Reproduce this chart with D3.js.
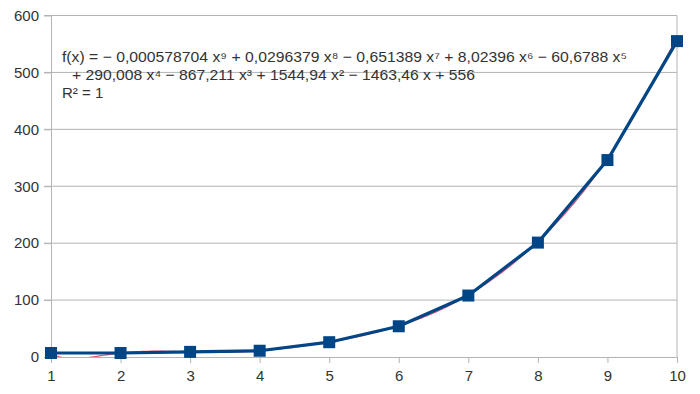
<!DOCTYPE html>
<html>
<head>
<meta charset="utf-8">
<script src="https://cdn.jsdelivr.net/npm/d3@7"></script>
<style>
  html, body { margin: 0; padding: 0; background: #fff; }
  svg { display: block; font-family: "Liberation Sans", Arial, sans-serif; }
</style>
</head>
<body>
<svg id="chart" width="700" height="394"></svg>
<script>
// data
const xValues = [1, 2, 3, 4, 5, 6, 7, 8, 9, 10];
const yValues = [7, 7, 9, 11, 26, 54, 108, 201, 346, 555];
const yTicks = [0, 100, 200, 300, 400, 500, 600];

// trend line coefficients as printed on the chart (x^9 ... x^0)
const trendCoeffs = [-0.000578704, 0.0296379, -0.651389, 8.02396, -60.6788, 290.008, -867.211, 1544.94, -1463.46, 556];
const equationLines = [
    "f(x) = \u2212 0,000578704 x\u2079 + 0,0296379 x\u2078 \u2212 0,651389 x\u2077 + 8,02396 x\u2076 \u2212 60,6788 x\u2075",
    "+ 290,008 x\u2074 \u2212 867,211 x\u00b3 + 1544,94 x\u00b2 \u2212 1463,46 x + 556",
    "R\u00b2 = 1"
];

const svg = d3.select('#chart');
const plotLeft = 51, plotRight = 677, plotTop = 15.5, plotBottom = 357;

const x = d3.scaleLinear().domain([1, 10]).range([plotLeft, plotRight]);
const y = d3.scaleLinear().domain([0, 600]).range([plotBottom, plotTop]);

// grid
svg.append('g')
    .selectAll('line')
    .data(yTicks.slice(1))
    .enter().append('line')
    .attr('x1', plotLeft - 7).attr('x2', plotRight)
    .attr('y1', d => y(d)).attr('y2', d => y(d))
    .attr('stroke', '#b3b3b3').attr('stroke-width', 1);

// right border
svg.append('line')
    .attr('x1', plotRight).attr('x2', plotRight)
    .attr('y1', plotTop).attr('y2', plotBottom)
    .attr('stroke', '#b3b3b3');

// y axis
const yAxis = svg.append('g')
    .attr('transform', `translate(${plotLeft},0)`)
    .call(d3.axisLeft(y).tickValues(yTicks).tickSize(7).tickPadding(5));
// x axis
const xAxis = svg.append('g')
    .attr('transform', `translate(0,${plotBottom})`)
    .call(d3.axisBottom(x).tickValues(xValues).tickSize(6).tickPadding(7).tickSizeOuter(0));

[yAxis, xAxis].forEach(g => {
    g.select('.domain').attr('stroke', '#b3b3b3');
    g.selectAll('.tick line').attr('stroke', '#b3b3b3');
    g.selectAll('.tick text')
        .attr('fill', '#333')
        .style('font-size', '15px')
        .style('font-family', '"Liberation Sans", Arial, sans-serif');
});
yAxis.select('.domain').attr('d', `M0.5,${plotTop}V${plotBottom}`);

// clip for the trend line
svg.append('clipPath').attr('id', 'plot-clip')
    .append('rect')
    .attr('x', plotLeft).attr('y', plotTop)
    .attr('width', plotRight - plotLeft).attr('height', plotBottom - plotTop);

function trend(v) {
    return trendCoeffs.reduce((acc, c) => acc * v + c, 0);
}

const trendXs = d3.range(1, 10.0001, 0.02);
svg.append('path')
    .datum(trendXs)
    .attr('clip-path', 'url(#plot-clip)')
    .attr('fill', 'none')
    .attr('stroke', '#d9536f')
    .attr('stroke-width', 1.2)
    .attr('d', d3.line().x(d => x(d)).y(d => y(trend(d))));

// series line
const pts = xValues.map((v, i) => [v, yValues[i]]);
svg.append('path')
    .datum(pts)
    .attr('fill', 'none')
    .attr('stroke', '#004586')
    .attr('stroke-width', 3.2)
    .attr('stroke-linejoin', 'round')
    .attr('d', d3.line().x(d => x(d[0])).y(d => y(d[1])));

// markers
svg.append('g')
    .selectAll('rect')
    .data(pts)
    .enter().append('rect')
    .attr('x', d => x(d[0]) - 6)
    .attr('y', d => y(d[1]) - 6)
    .attr('width', 12).attr('height', 12)
    .attr('fill', '#004586');

// equation
const eqX = [62, 72, 62];
const eqWidth = [565, 403, null];
svg.append('g')
    .selectAll('text')
    .data(equationLines)
    .enter().append('text')
    .attr('x', (d, i) => eqX[i])
    .attr('y', (d, i) => 61.5 + i * 18)
    .attr('fill', '#333')
    .style('font-size', '15px')
    .each(function(d, i) {
        if (eqWidth[i]) {
            d3.select(this).attr('textLength', eqWidth[i]).attr('lengthAdjust', 'spacingAndGlyphs');
        }
    })
    .text(d => d);
</script>
</body>
</html>
